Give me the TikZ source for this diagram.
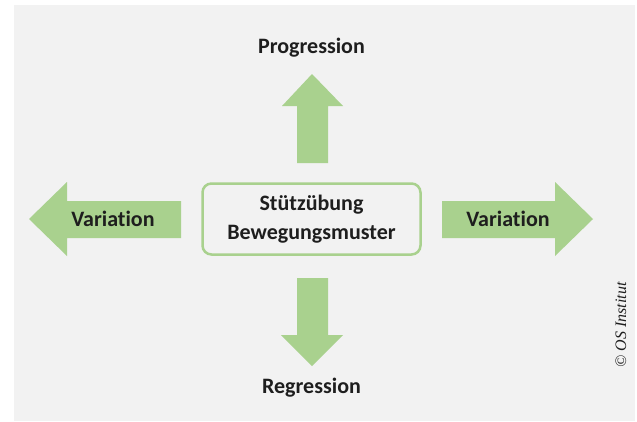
\documentclass[tikz,border=0pt]{standalone}
\usepackage{fontspec}
\setmainfont{Carlito}[Ligatures=NoCommon]
\newfontfamily\copyfont{Liberation Serif}
\definecolor{arrowGreen}{HTML}{A9D18E}
\definecolor{panelGray}{HTML}{F2F2F2}
\definecolor{labelInk}{HTML}{1E1E1E}
\begin{document}
\begin{tikzpicture}[
  x=1pt, y=-1pt,
  font=\bfseries\fontsize{22}{26}\selectfont,
  label/.style={text=labelInk, inner sep=0pt, align=center},
  bigArrow/.style={fill=arrowGreen, draw=none},
  centreBox/.style={draw=arrowGreen, line width=2.5pt, rounded corners=9pt,
    fill=panelGray, minimum width=218pt, minimum height=71pt, align=center,
    text=labelInk}]

% Background panel
\fill[white] (0,0) rectangle (637,421);
\fill[panelGray] (14,5) rectangle (635,421);

% Block arrows pointing away from the centre
\fill[bigArrow] (312,74) -- (343,106) -- (328,106) -- (328,163) -- (297,163) -- (297,106) -- (282,106) -- cycle;
\fill[bigArrow] (312,366) -- (343,335) -- (328,335) -- (328,278) -- (297,278) -- (297,335) -- (281,335) -- cycle;
\fill[bigArrow] (29,219) -- (67,182) -- (67,201) -- (181,201) -- (181,238) -- (67,238) -- (67,256) -- cycle;
\fill[bigArrow] (593,219) -- (555,182) -- (555,201) -- (442,201) -- (442,238) -- (555,238) -- (555,256) -- cycle;

% Centre and labels
\node[centreBox] (stuetzUebung) at (311.5,219) {St\"utz\"ubung\\[3pt]Bewegungsmuster};
\node[label] (progression) at (311.5,48) {Progression};
\node[label] (regression) at (311.5,388) {Regression};
\node[label] (variationLeft) at (113,219) {Variation};
\node[label] (variationRight) at (508,219) {Variation};

% Copyright note
\node[text=labelInk, rotate=90, inner sep=0pt] (copyNote) at (621,325)
  {\copyfont\itshape\mdseries\fontsize{16}{18}\selectfont \textcopyright{} OS Institut};
\end{tikzpicture}
\end{document}
